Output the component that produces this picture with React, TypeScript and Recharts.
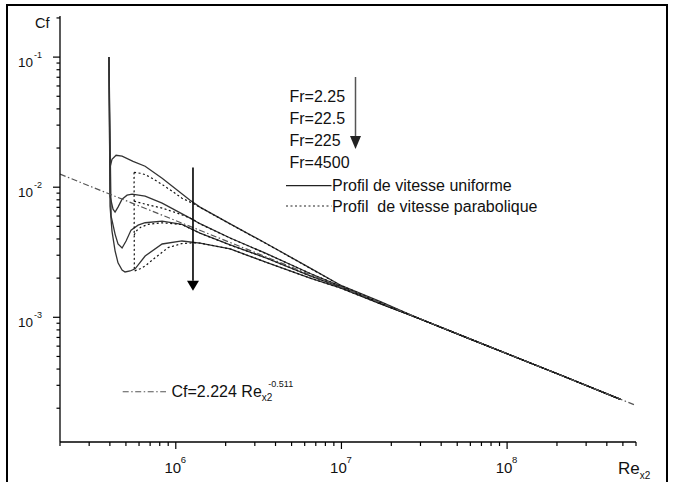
import { LineChart, Line, XAxis, YAxis, ReferenceLine, Legend } from 'recharts';

// axis ticks (log decades + minor ticks)
const RE_MAJOR = [1e6, 1e7, 1e8];
const RE_MINOR = [2e5, 3e5, 4e5, 5e5, 6e5, 7e5, 8e5, 9e5, 2e6, 3e6, 4e6, 5e6, 6e6, 7e6, 8e6, 9e6, 2e7, 3e7, 4e7, 5e7, 6e7, 7e7, 8e7, 9e7, 2e8, 3e8, 4e8, 5e8, 6e8];
const CF_MAJOR = [1e-3, 1e-2, 1e-1];
const CF_MINOR = [2e-4, 3e-4, 4e-4, 5e-4, 6e-4, 7e-4, 8e-4, 9e-4, 2e-3, 3e-3, 4e-3, 5e-3, 6e-3, 7e-3, 8e-3, 9e-3, 2e-2, 3e-2, 4e-2, 5e-2, 6e-2, 7e-2, 8e-2, 9e-2, 2e-1];

const FR_LABELS = ['Fr=2.25', 'Fr=22.5', 'Fr=225', 'Fr=4500'];

// uniform velocity profile (solid)
const RE_U1 = [3.95e5, 4.01e5, 4.12e5, 4.36e5, 4.74e5, 5.52e5, 6.53e5, 8.27e5, 1.22e6, 1.4e6, 2.13e6, 3.56e6, 6.48e6, 9.84e6, 1.72e7, 2.99e7, 6e7, 2.1e8, 4.84e8];
const CF_U1 = [0.1, 0.0142, 0.0164, 0.0176, 0.0173, 0.0158, 0.0145, 0.0117, 0.00795, 0.00703, 0.00523, 0.00366, 0.00239, 0.00177, 0.00132, 0.00097, 0.00068, 0.00036, 0.000234];

const RE_U2 = [3.95e5, 4.01e5, 4.18e5, 4.3e5, 4.48e5, 4.74e5, 5.08e5, 5.45e5, 6.53e5, 8.27e5, 1.22e6, 1.4e6, 2.13e6, 3.56e6, 6.48e6, 9.84e6, 1.72e7, 2.99e7, 6e7, 2.1e8, 4.84e8];
const CF_U2 = [0.1, 0.00853, 0.00678, 0.00643, 0.00703, 0.00809, 0.00868, 0.00884, 0.00853, 0.00754, 0.00579, 0.00524, 0.00407, 0.00307, 0.00217, 0.00174, 0.00128, 0.00097, 0.00068, 0.00036, 0.000234];

const RE_U3 = [3.95e5, 4.07e5, 4.3e5, 4.48e5, 4.74e5, 5.01e5, 5.37e5, 5.92e5, 6.53e5, 8.27e5, 1.09e6, 1.4e6, 2.13e6, 3.56e6, 6.48e6, 9.84e6, 1.72e7, 2.99e7, 6e7, 2.1e8, 4.84e8];
const CF_U3 = [0.1, 0.006, 0.00436, 0.00366, 0.00341, 0.00386, 0.00468, 0.00511, 0.00533, 0.00549, 0.00518, 0.00444, 0.0036, 0.00284, 0.00208, 0.00171, 0.00128, 0.00097, 0.00068, 0.00036, 0.000234];

const RE_U4 = [3.95e5, 4.01e5, 4.12e5, 4.3e5, 4.48e5, 4.74e5, 4.94e5, 5.3e5, 5.68e5, 6.53e5, 8.27e5, 1.09e6, 1.4e6, 2.13e6, 3.56e6, 6.48e6, 9.84e6, 1.72e7, 2.99e7, 6e7, 2.1e8, 4.84e8];
const CF_U4 = [0.1, 0.00715, 0.0046, 0.00324, 0.00262, 0.00231, 0.00223, 0.00227, 0.00236, 0.00296, 0.00366, 0.00386, 0.00372, 0.00335, 0.00263, 0.002, 0.00168, 0.00127, 0.00097, 0.00068, 0.00036, 0.000234];

// parabolic velocity profile (dotted)
const RE_P1 = [5.6e5, 6.09e5, 6.53e5, 7.19e5, 8.27e5, 9.5e5, 1.09e6, 1.26e6, 1.4e6, 2.13e6, 3.56e6, 6.48e6, 9.84e6, 1.72e7, 2.99e7, 6e7, 2.1e8, 4.84e8];
const CF_P1 = [0.013, 0.0128, 0.0125, 0.0117, 0.0105, 0.00932, 0.00823, 0.00754, 0.007, 0.00521, 0.00365, 0.00238, 0.00176, 0.00131, 0.00097, 0.00068, 0.00036, 0.000234];

const RE_P2 = [5.6e5, 6.53e5, 8.27e5, 1.06e6, 1.26e6, 1.4e6, 2.13e6, 3.56e6, 6.48e6, 9.84e6, 1.72e7, 2.99e7, 6e7, 2.1e8, 4.84e8];
const CF_P2 = [0.00781, 0.00741, 0.00691, 0.00621, 0.00569, 0.00522, 0.00406, 0.00306, 0.00217, 0.00174, 0.00128, 0.00097, 0.00068, 0.00036, 0.000234];

const RE_P3 = [5.6e5, 5.84e5, 6.17e5, 6.81e5, 8.27e5, 1.09e6, 1.4e6, 2.13e6, 3.56e6, 6.48e6, 9.84e6, 1.72e7, 2.99e7, 6e7, 2.1e8, 4.84e8];
const CF_P3 = [0.00429, 0.00468, 0.00494, 0.00518, 0.00533, 0.00516, 0.00443, 0.00359, 0.00284, 0.00208, 0.00171, 0.00128, 0.00097, 0.00068, 0.00036, 0.000234];

const RE_P4 = [5.6e5, 5.62e5, 6.09e5, 6.53e5, 7.5e5, 8.98e5, 1.09e6, 1.31e6, 1.4e6, 2.13e6, 3.56e6, 6.48e6, 9.84e6, 1.72e7, 2.99e7, 6e7, 2.1e8, 4.84e8];
const CF_P4 = [0.013, 0.00227, 0.00236, 0.00248, 0.00287, 0.00343, 0.00369, 0.00374, 0.00372, 0.00335, 0.00263, 0.002, 0.00168, 0.00127, 0.00097, 0.00068, 0.00036, 0.000234];

// correlation Cf = 2.224 Re^-0.511 (dash-dot)
const RE_FIT = [2e5, 6e8];
const CF_FIT = [0.0126, 0.00021];

// Fr arrow
const ARROW_RE = 1.27e6;
const ARROW_CF = [0.0142, 0.0016];

const pts = (re: number[], cf: number[]) => re.map((r, i) => ({ re: r, cf: cf[i] }));

const SOLID = '#333';
const SERIES = [
  { key: 'u1', data: pts(RE_U1, CF_U1), dash: undefined, color: SOLID },
  { key: 'u2', data: pts(RE_U2, CF_U2), dash: undefined, color: SOLID },
  { key: 'u3', data: pts(RE_U3, CF_U3), dash: undefined, color: SOLID },
  { key: 'u4', data: pts(RE_U4, CF_U4), dash: undefined, color: SOLID },
  { key: 'p1', data: pts(RE_P1, CF_P1), dash: '2 2.5', color: '#111' },
  { key: 'p2', data: pts(RE_P2, CF_P2), dash: '2 2.5', color: '#111' },
  { key: 'p3', data: pts(RE_P3, CF_P3), dash: '2 2.5', color: '#111' },
  { key: 'p4', data: pts(RE_P4, CF_P4), dash: '2 2.5', color: '#111' },
  { key: 'fit', data: pts(RE_FIT, CF_FIT), dash: '6 2.5 1.5 2.5', color: '#555' },
];

const FONT = '"Liberation Sans", Arial, sans-serif';

function YTick({ x, y, payload }: any) {
  const v = payload.value;
  const major = CF_MAJOR.includes(v);
  return (
    <g>
      <line x1={x - (major ? 7 : 3.5)} x2={x} y1={y} y2={y} stroke="#000" strokeWidth={1.2} />
      {major && <text x={x - 27} y={y + 9.5} textAnchor="end" fontSize={13.5} fill="#111">10</text>}
      {major && <text x={x - 26} y={y + 1} fontSize={9} fill="#111">{Math.round(Math.log10(v))}</text>}
    </g>
  );
}

function XTick({ x, y, payload }: any) {
  const v = payload.value;
  const major = RE_MAJOR.includes(v);
  return (
    <g>
      <line x1={x} x2={x} y1={y} y2={y + (major ? 7 : 4)} stroke="#000" strokeWidth={1.2} />
      {major && <text x={x - 3} y={y + 31} textAnchor="middle" fontSize={15} fill="#111">10</text>}
      {major && <text x={x + 5} y={y + 21} fontSize={9.5} fill="#111">{Math.round(Math.log10(v))}</text>}
    </g>
  );
}

function ArrowShape({ x1, y1, x2, y2 }: any) {
  const head = 10;
  return (
    <g>
      <line x1={x1} y1={y1} x2={x2} y2={y2 - head} stroke="#000" strokeWidth={1.6} />
      <polygon points={`${x2 - 6},${y2 - head} ${x2 + 6},${y2 - head} ${x2},${y2}`} fill="#000" />
    </g>
  );
}

function LegendBlock() {
  return (
    <svg width={673} height={482} style={{ position: 'absolute', left: 0, top: 0, fontFamily: FONT }}>
      {FR_LABELS.map((t, i) => (
        <text key={t} x={289.5} y={102.4 + i * 21.7} fontSize={16} fill="#111">{t}</text>
      ))}
      <line x1={355.5} y1={77} x2={355.5} y2={137} stroke="#555" strokeWidth={1.5} />
      <polygon points="350,136 361,136 355.5,149" fill="#222" />
      <line x1={286} y1={185.7} x2={331.5} y2={185.7} stroke="#222" strokeWidth={1.2} />
      <text x={332} y={190.7} fontSize={16} fill="#111">Profil de vitesse uniforme</text>
      <line x1={286} y1={206} x2={331.5} y2={206} stroke="#222" strokeWidth={1.2} strokeDasharray="2 2.5" />
      <text x={332} y={211.7} fontSize={16} fill="#111" style={{ whiteSpace: 'pre' }}>Profil  de vitesse parabolique</text>
      <line x1={122.7} y1={391.7} x2={166} y2={391.7} stroke="#555" strokeWidth={1.1} strokeDasharray="6 2.5 1.5 2.5" />
      <text x={171.5} y={396.7} fontSize={16} fill="#111">
        Cf=2.224 Re
        <tspan dy={4.5} fontSize={10}>x2</tspan>
        <tspan dx={-4} dy={-14.5} fontSize={9}>-0.511</tspan>
      </text>
    </svg>
  );
}

export default function App() {
  return (
    <div style={{ position: 'absolute', left: 0, top: 0, width: 673, height: 482, overflow: 'hidden', background: '#fff', fontFamily: FONT }}>
      <div style={{ position: 'absolute', left: 6, top: 4, width: 662, height: 520, border: '2px solid #000', boxSizing: 'border-box' }} />
      <LineChart width={673} height={482} margin={{ top: 16, right: 37, bottom: 0, left: 0 }}>
        <XAxis
          dataKey="re"
          type="number"
          scale="log"
          domain={[2e5, 6e8]}
          allowDataOverflow
          ticks={[...RE_MINOR, ...RE_MAJOR].sort((a, b) => a - b)}
          interval={0}
          tick={<XTick />}
          tickLine={false}
          tickSize={0}
          tickMargin={0}
          height={40}
          axisLine={{ stroke: '#000', strokeWidth: 1.3 }}
          label={{
            content: ({ viewBox }: any) => (
              <text x={viewBox.x + viewBox.width - 18} y={viewBox.y + 31.5} fontSize={17} fill="#111">
                Re<tspan dy={5} fontSize={10}>x2</tspan>
              </text>
            ),
          }}
        />
        <YAxis
          dataKey="cf"
          type="number"
          scale="log"
          domain={[1.1e-4, 0.207]}
          allowDataOverflow
          ticks={[...CF_MINOR, ...CF_MAJOR].sort((a, b) => a - b)}
          interval={0}
          tick={<YTick />}
          tickLine={false}
          tickSize={0}
          tickMargin={0}
          width={60}
          axisLine={{ stroke: '#000', strokeWidth: 1.3 }}
          label={{
            content: ({ viewBox }: any) => (
              <text x={viewBox.x + 35} y={viewBox.y + 12} fontSize={14.5} fill="#111">Cf</text>
            ),
          }}
        />
        {SERIES.map(s => (
          <Line
            key={s.key}
            data={s.data}
            dataKey="cf"
            type="linear"
            stroke={s.color}
            strokeWidth={s.dash ? 1.2 : 1.3}
            strokeDasharray={s.dash}
            dot={false}
            activeDot={false}
            isAnimationActive={false}
          />
        ))}
        <ReferenceLine
          segment={[{ x: ARROW_RE, y: ARROW_CF[0] }, { x: ARROW_RE, y: ARROW_CF[1] }]}
          stroke="#000"
          shape={<ArrowShape />}
        />
        <Legend
          layout="horizontal"
          verticalAlign="middle"
          align="center"
          wrapperStyle={{ position: 'absolute', left: 0, top: 0, width: 673, height: 482, pointerEvents: 'none' }}
          content={() => <LegendBlock />}
        />
      </LineChart>
    </div>
  );
}
